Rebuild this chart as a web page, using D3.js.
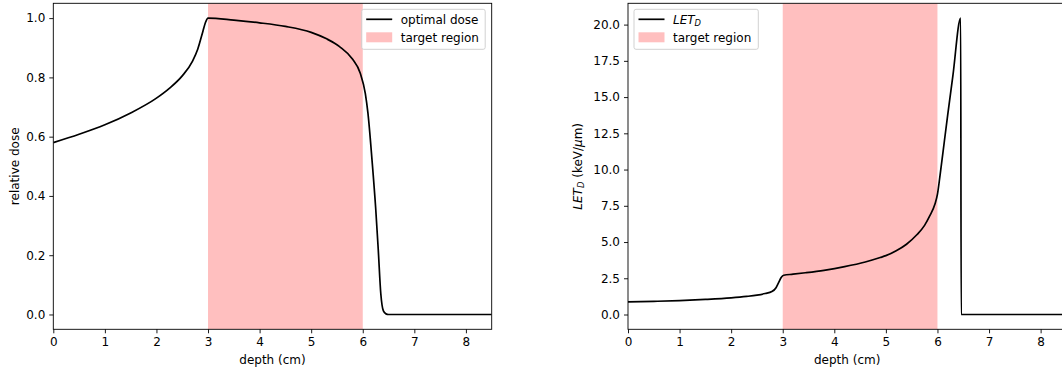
<!DOCTYPE html>
<html>
<head>
<meta charset="utf-8">
<script src="https://cdn.jsdelivr.net/npm/d3@7"></script>
<style>
  html, body { margin: 0; padding: 0; background: #fff; }
  svg { display: block; font-family: "DejaVu Sans", sans-serif; }
</style>
</head>
<body>
<svg id="chart" width="1062" height="370"></svg>
<script>
// Depth–dose profile (relative dose vs depth in cm)
const doseDepth = [0, 0.5, 1.0, 1.5, 2.0, 2.25, 2.5, 2.7, 2.8, 2.9, 2.95, 3.0, 3.5, 4.0, 4.5, 5.0, 5.3, 5.55, 5.8, 5.95, 6.05, 6.1, 6.18, 6.25, 6.3, 6.35, 6.4, 6.45, 6.5, 8.5];
const doseValue = [0.580, 0.608, 0.640, 0.680, 0.730, 0.763, 0.805, 0.855, 0.895, 0.955, 0.985, 1.000, 0.993, 0.984, 0.972, 0.952, 0.930, 0.904, 0.862, 0.815, 0.745, 0.680, 0.520, 0.360, 0.220, 0.070, 0.012, 0.002, 0.0, 0.0];

// Dose-averaged LET profile (keV/µm vs depth in cm)
const letDepth = [0, 0.5, 1.0, 1.5, 2.0, 2.3, 2.5, 2.66, 2.79, 2.87, 2.92, 2.97, 3.02, 3.2, 3.44, 3.8, 4.2, 4.6, 4.89, 5.0, 5.2, 5.4, 5.6, 5.75, 5.85, 5.95, 6.0, 6.05, 6.1, 6.2, 6.3, 6.45, 6.46, 8.5];
const letValue = [0.87, 0.91, 0.96, 1.04, 1.15, 1.25, 1.34, 1.45, 1.58, 1.85, 2.2, 2.55, 2.71, 2.78, 2.88, 3.05, 3.3, 3.62, 3.93, 4.06, 4.4, 4.85, 5.5, 6.15, 6.8, 7.6, 8.3, 9.6, 11.0, 13.8, 16.5, 20.45, 0, 0];

// Target region (cm)
const targetRegion = [3, 6];

const xTicks = [0, 1, 2, 3, 4, 5, 6, 7, 8];
const doseTicks = [0.0, 0.2, 0.4, 0.6, 0.8, 1.0];
const letTicks = [0.0, 2.5, 5.0, 7.5, 10.0, 12.5, 15.0, 17.5, 20.0];

const svg = d3.select("#chart");
const plotTop = 3.3, plotBottom = 329.3;
const fs = 12;

function panel(opts) {
  const g = svg.append("g");
  const x = d3.scaleLinear().domain([0, 8.5]).range([opts.left, opts.left + 438.4]);
  const y = d3.scaleLinear().domain(opts.yDomain).range([plotBottom, plotTop]);

  // clip to plot area
  const clipId = "clip-" + opts.id;
  g.append("clipPath").attr("id", clipId)
    .append("rect").attr("x", x(0)).attr("y", plotTop).attr("width", x(8.5) - x(0)).attr("height", plotBottom - plotTop);

  const plot = g.append("g").attr("clip-path", `url(#${clipId})`);

  plot.append("rect")
    .attr("x", x(targetRegion[0])).attr("width", x(targetRegion[1]) - x(targetRegion[0]))
    .attr("y", plotTop).attr("height", plotBottom - plotTop)
    .attr("fill", "#ffbfbf");

  const pts = opts.xs.map((d, i) => [d, opts.ys[i]]);
  plot.append("path")
    .datum(pts)
    .attr("fill", "none").attr("stroke", "#000").attr("stroke-width", 1.7)
    .attr("stroke-linejoin", "round")
    .attr("d", d3.line().x(d => x(d[0])).y(d => y(d[1])).curve(d3.curveMonotoneX));

  // axes
  const xAxis = g.append("g").attr("transform", `translate(0,${plotBottom})`)
    .call(d3.axisBottom(x).tickValues(xTicks).tickFormat(d3.format("d")).tickSize(4).tickPadding(4));
  const yAxis = g.append("g").attr("transform", `translate(${x(0)},0)`)
    .call(d3.axisLeft(y).tickValues(opts.yTicks).tickFormat(d3.format(".1f")).tickSize(4).tickPadding(4));
  [xAxis, yAxis].forEach(a => {
    a.select(".domain").remove();
    a.selectAll("line").attr("stroke", "#000").attr("stroke-width", 0.9);
    a.selectAll("text").attr("fill", "#000").attr("font-size", fs).attr("font-family", "DejaVu Sans");
  });

  // spines
  g.append("rect")
    .attr("x", x(0)).attr("y", plotTop).attr("width", x(8.5) - x(0)).attr("height", plotBottom - plotTop)
    .attr("fill", "none").attr("stroke", "#000").attr("stroke-width", 0.9);

  // x label
  g.append("text").attr("x", (x(0) + x(8.5)) / 2).attr("y", 364)
    .attr("text-anchor", "middle").attr("font-size", fs).text("depth (cm)");

  // y label
  const yl = g.append("text")
    .attr("transform", `translate(${opts.yLabelX},${(plotTop + plotBottom) / 2}) rotate(-90)`)
    .attr("text-anchor", "middle").attr("font-size", fs);
  opts.yLabel(yl);

  // legend
  const lg = g.append("g").attr("transform", `translate(${opts.legendX},9.3)`);
  lg.append("rect").attr("width", opts.legendW).attr("height", 40).attr("rx", 2)
    .attr("fill", "#fff").attr("fill-opacity", 0.8).attr("stroke", "#ccc").attr("stroke-width", 0.9);
  lg.append("line").attr("x1", 4.5).attr("x2", 30.5).attr("y1", 10).attr("y2", 10)
    .attr("stroke", "#000").attr("stroke-width", 1.7);
  lg.append("rect").attr("x", 4.5).attr("y", 23).attr("width", 26).attr("height", 10).attr("fill", "#ffbfbf");
  const t1 = lg.append("text").attr("x", 39).attr("y", 14.3).attr("font-size", fs);
  opts.legendLabel(t1);
  lg.append("text").attr("x", 39).attr("y", 32.5).attr("font-size", fs).text("target region");
}

panel({
  id: "dose", left: 53.3, yDomain: [-0.05, 1.05], yTicks: doseTicks,
  xs: doseDepth, ys: doseValue, yLabelX: 18.5,
  yLabel: t => t.text("relative dose"),
  legendX: 361.7, legendW: 123.5,
  legendLabel: t => t.text("optimal dose")
});

panel({
  id: "let", left: 628, yDomain: [-1.02, 21.47], yTicks: letTicks,
  xs: letDepth, ys: letValue, yLabelX: 581.5,
  yLabel: t => {
    t.append("tspan").attr("font-style", "italic").text("LET");
    t.append("tspan").attr("font-style", "italic").attr("font-size", 8.4).attr("dy", 2.5).text("D");
    t.append("tspan").attr("dy", -2.5).text(" (keV/");
    t.append("tspan").attr("font-style", "italic").text("μ");
    t.append("tspan").text("m)");
  },
  legendX: 634, legendW: 124.3,
  legendLabel: t => {
    t.append("tspan").attr("font-style", "italic").text("LET");
    t.append("tspan").attr("font-style", "italic").attr("font-size", 8.4).attr("dy", 2.5).text("D");
  }
});
</script>
</body>
</html>
